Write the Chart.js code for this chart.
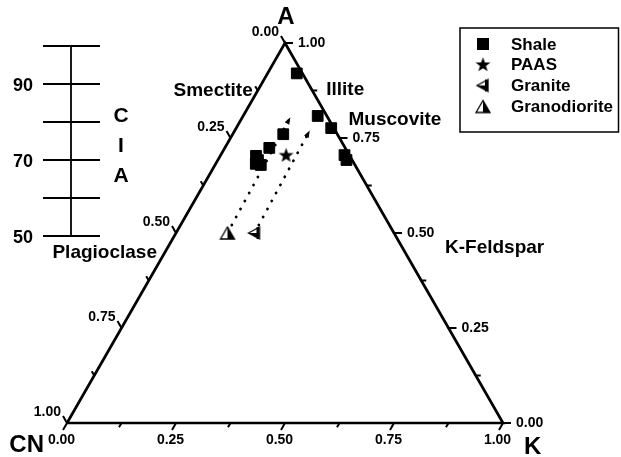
<!DOCTYPE html>
<html>
<head>
<meta charset="utf-8">
<script src="https://cdn.jsdelivr.net/npm/chart.js@4.4.1/dist/chart.umd.min.js"></script>
<style>
  html, body { margin: 0; padding: 0; background: #fff; }
  #wrap { width: 621px; height: 457px; }
</style>
</head>
<body>
<div id="wrap"><canvas id="c" width="621" height="457"></canvas></div>
<script>
// ---- A–CN–K molar proportions (A = Al2O3, CN = CaO* + Na2O, K = K2O) ----
const shaleA  = [0.920, 0.808, 0.776, 0.705, 0.692, 0.760, 0.724, 0.703, 0.692, 0.682, 0.679];
const shaleCN = [0.013, 0.021, 0.006, 0.011, 0.013, 0.124, 0.174, 0.215, 0.216, 0.226, 0.216];
const shaleK  = [0.067, 0.171, 0.218, 0.284, 0.295, 0.116, 0.102, 0.082, 0.092, 0.092, 0.105];

const paasA = [0.705], paasCN = [0.145], paasK = [0.150];
const graniteA = [0.50], graniteCN = [0.320], graniteK = [0.180];
const granodioriteA = [0.50], granodioriteCN = [0.382], granodioriteK = [0.118];

// predicted weathering trends (start = fresh rock, end = arrow tip)
const graniteTrendA = [0.50, 0.765], graniteTrendCN = [0.320, 0.063], graniteTrendK = [0.180, 0.172];
const granoTrendA   = [0.50, 0.800], granoTrendCN   = [0.382, 0.090], granoTrendK   = [0.118, 0.110];

// axis ticks
const majorTicks = [0, 0.25, 0.5, 0.75, 1];
const majorTickLabels = ['0.00', '0.25', '0.50', '0.75', '1.00'];
const minorTicks = [0.125, 0.375, 0.625, 0.875];

// CIA scale
const ciaTicks = [100, 90, 80, 70, 60, 50];
const ciaLabelValues = [90, 70, 50];
const ciaLabels = ['90', '70', '50'];

const legendNames = ['Shale', 'PAAS', 'Granite', 'Granodiorite'];

// ---- ternary -> cartesian (K at right, A at top) ----
function tern(a, cn, k) {
  const s = a + cn + k;
  return { x: (k / s) + (a / s) / 2, y: a / s };
}
function series(A, CN, K) { return A.map((a, i) => tern(a, CN[i], K[i])); }

// ---- marker images ----
function makeCanvas(w, h, draw) {
  const cv = document.createElement('canvas');
  cv.width = w; cv.height = h;
  draw(cv.getContext('2d'), w, h);
  return cv;
}
const starImg = makeCanvas(17, 17, (g, w, h) => {
  const cx = w / 2, cy = h / 2 + 0.5, R = 7.8, r = 3.2;
  g.beginPath();
  for (let i = 0; i < 10; i++) {
    const rad = i % 2 ? r : R;
    const ang = -Math.PI / 2 + i * Math.PI / 5;
    const px = cx + rad * Math.cos(ang), py = cy + rad * Math.sin(ang);
    i ? g.lineTo(px, py) : g.moveTo(px, py);
  }
  g.closePath();
  g.fillStyle = '#000';
  g.fill();
});
const graniteImg = makeCanvas(16, 16, (g, w, h) => {
  // left-pointing triangle, lower half solid
  const L = 2, R = 13, T = 2, B = 14, M = 8;
  g.fillStyle = '#fff';
  g.beginPath(); g.moveTo(L, M); g.lineTo(R, T); g.lineTo(R, B); g.closePath(); g.fill();
  g.fillStyle = '#000';
  g.beginPath(); g.moveTo(L, M); g.lineTo(R, M); g.lineTo(R, B); g.closePath(); g.fill();
  g.fillRect(R - 3, T, 3, B - T);
  g.strokeStyle = '#000'; g.lineWidth = 1.3; g.lineJoin = 'miter';
  g.beginPath(); g.moveTo(L, M); g.lineTo(R, T); g.lineTo(R, B); g.closePath(); g.stroke();
});
const granodioriteImg = makeCanvas(18, 16, (g, w, h) => {
  // upward triangle, right half solid
  const L = 2, R = 16, T = 2, B = 14, M = 9;
  g.fillStyle = '#fff';
  g.beginPath(); g.moveTo(M, T); g.lineTo(R, B); g.lineTo(L, B); g.closePath(); g.fill();
  g.fillStyle = '#000';
  g.beginPath(); g.moveTo(M, T); g.lineTo(R, B); g.lineTo(M, B); g.closePath(); g.fill();
  g.strokeStyle = '#000'; g.lineWidth = 1.3;
  g.beginPath(); g.moveTo(M, T); g.lineTo(R, B); g.lineTo(L, B); g.closePath(); g.stroke();
});

// pixel frame: triangle base spans 436 px, height 380 px
const xMin = -67 / 436, xMax = (621 - 67) / 436;
const yMin = -(457 - 423) / 380, yMax = 423 / 380;

const FONT = '"Liberation Sans", Arial, Helvetica, sans-serif';

const ternaryFrame = {
  id: 'ternaryFrame',
  afterDatasetsDraw(chart) {
    const { ctx, scales: { x, y } } = chart;
    const P = (a, cn, k) => { const t = tern(a, cn, k); return { x: x.getPixelForValue(t.x), y: y.getPixelForValue(t.y) }; };
    ctx.save();
    ctx.fillStyle = '#000';
    ctx.strokeStyle = '#000';

    // arrow heads on trend lines
    [[graniteTrendA, graniteTrendCN, graniteTrendK], [granoTrendA, granoTrendCN, granoTrendK]].forEach(([A, CN, K]) => {
      const p0 = P(A[0], CN[0], K[0]), p1 = P(A[1], CN[1], K[1]);
      const ang = Math.atan2(p1.y - p0.y, p1.x - p0.x);
      ctx.save();
      ctx.translate(p1.x, p1.y);
      ctx.rotate(ang);
      ctx.beginPath();
      ctx.moveTo(2, 0); ctx.lineTo(-5, -2.6); ctx.lineTo(-5, 2.6); ctx.closePath();
      ctx.fill();
      ctx.restore();
    });

    // axis ticks
    ctx.lineWidth = 2;
    ctx.lineCap = 'butt';
    const tick = (p, dx, dy, len) => {
      ctx.beginPath(); ctx.moveTo(p.x, p.y); ctx.lineTo(p.x + dx * len, p.y + dy * len); ctx.stroke();
    };
    const c60 = 0.5, s60 = Math.sqrt(3) / 2;
    const allTicks = majorTicks.map(v => [v, 8]).concat(minorTicks.map(v => [v, 5]));
    allTicks.forEach(([v, len]) => {
      tick(P(0, 1 - v, v), -c60, s60, len);   // K (bottom)
      tick(P(v, 0, 1 - v), 1, 0, len);         // A (right)
      tick(P(1 - v, v, 0), -c60, -s60, len);  // CN (left)
    });

    // tick labels
    ctx.font = 'bold 14px ' + FONT;
    ctx.textBaseline = 'middle';
    majorTicks.forEach((v, i) => {
      const lab = majorTickLabels[i];
      let p = P(0, 1 - v, v);
      ctx.textAlign = 'center'; ctx.fillText(lab, p.x - 5.5, p.y + 17.5);
      p = P(v, 0, 1 - v);
      ctx.textAlign = 'left'; ctx.fillText(lab, p.x + 13, p.y + 0.5);
      p = P(1 - v, v, 0);
      ctx.textAlign = 'right'; ctx.fillText(lab, p.x - 6, p.y - 10.5);
    });

    // apex names
    ctx.font = 'bold 24px ' + FONT;
    let p = P(1, 0, 0);
    ctx.textAlign = 'center'; ctx.fillText('A', p.x + 1, p.y - 26);
    p = P(0, 1, 0);
    ctx.textAlign = 'right'; ctx.fillText('CN', p.x - 23, p.y + 22);
    p = P(0, 0, 1);
    ctx.textAlign = 'left'; ctx.fillText('K', p.x + 21, p.y + 24);

    // mineral names
    ctx.font = 'bold 19px ' + FONT;
    p = P(0.875, 0.125, 0); ctx.textAlign = 'right'; ctx.fillText('Smectite', p.x - 5, p.y);
    p = P(0.875, 0, 0.125); ctx.textAlign = 'left';  ctx.fillText('Illite', p.x + 14, p.y - 1);
    p = P(0.75, 0, 0.25);   ctx.textAlign = 'left';  ctx.fillText('Muscovite', p.x + 9, p.y - 18);
    p = P(0.5, 0, 0.5);     ctx.textAlign = 'left';  ctx.fillText('K-Feldspar', p.x + 51, p.y + 15);
    p = P(0.5, 0.5, 0);     ctx.textAlign = 'right'; ctx.fillText('Plagioclase', p.x - 19, p.y + 20);

    // CIA scale
    const cx = 71, cyOf = v => y.getPixelForValue(v / 100) + 3;
    ctx.lineWidth = 1.8;
    ctx.beginPath(); ctx.moveTo(cx, cyOf(ciaTicks[0])); ctx.lineTo(cx, cyOf(ciaTicks[ciaTicks.length - 1])); ctx.stroke();
    ciaTicks.forEach(v => { ctx.beginPath(); ctx.moveTo(43, cyOf(v)); ctx.lineTo(100, cyOf(v)); ctx.stroke(); });
    ctx.font = 'bold 18px ' + FONT;
    ctx.textAlign = 'right';
    ciaLabelValues.forEach((v, i) => ctx.fillText(ciaLabels[i], 33, cyOf(v) + 2));
    ctx.font = 'bold 21px ' + FONT;
    ctx.textAlign = 'center';
    ctx.fillText('C', 121, 116);
    ctx.fillText('I', 121, 146);
    ctx.fillText('A', 121, 176);

    // legend
    ctx.lineWidth = 1.5;
    ctx.strokeRect(460, 28, 158.5, 104);
    ctx.font = 'bold 17px ' + FONT;
    ctx.textAlign = 'left';
    const rowY = [44, 64.5, 85.5, 106.5];
    legendNames.forEach((name, i) => {
      const sx = 483, sy = rowY[i];
      if (i === 0) ctx.fillRect(sx - 6, sy - 6, 12, 12);
      else {
        const img = [null, starImg, graniteImg, granodioriteImg][i];
        ctx.drawImage(img, sx - img.width / 2, sy - img.height / 2);
      }
      ctx.fillText(name, 511, sy + 1);
    });
    ctx.restore();
  }
};

const black = '#000';
new Chart(document.getElementById('c'), {
  type: 'scatter',
  data: {
    datasets: [
      { label: 'frame', data: [tern(0, 1, 0), tern(0, 0, 1), tern(1, 0, 0), tern(0, 1, 0)],
        showLine: true, borderColor: black, borderWidth: 2.7, pointRadius: 0, fill: false,
        borderJoinStyle: 'miter', order: 9 },
      { label: 'Granite trend', data: series(graniteTrendA, graniteTrendCN, graniteTrendK),
        showLine: true, borderColor: black, borderWidth: 2.8, borderDash: [0.1, 9], borderCapStyle: 'round',
        pointRadius: 0, order: 8 },
      { label: 'Granodiorite trend', data: series(granoTrendA, granoTrendCN, granoTrendK),
        showLine: true, borderColor: black, borderWidth: 2.8, borderDash: [0.1, 9], borderCapStyle: 'round',
        pointRadius: 0, order: 8 },
      { label: 'Shale', data: series(shaleA, shaleCN, shaleK), pointStyle: 'rect', pointRadius: 7.6,
        backgroundColor: black, borderColor: black, borderWidth: 1, order: 1 },
      { label: 'PAAS', data: series(paasA, paasCN, paasK), pointStyle: starImg, pointRadius: 8, order: 1 },
      { label: 'Granite', data: series(graniteA, graniteCN, graniteK), pointStyle: graniteImg, pointRadius: 8, order: 1 },
      { label: 'Granodiorite', data: series(granodioriteA, granodioriteCN, granodioriteK), pointStyle: granodioriteImg, pointRadius: 8, order: 1 }
    ]
  },
  options: {
    responsive: false,
    animation: false,
    devicePixelRatio: 1,
    layout: { padding: 0, autoPadding: false },
    clip: false,
    events: [],
    plugins: { legend: { display: false }, tooltip: { enabled: false } },
    scales: {
      x: { type: 'linear', display: false, min: xMin, max: xMax },
      y: { type: 'linear', display: false, min: yMin, max: yMax }
    }
  },
  plugins: [ternaryFrame]
});
</script>
</body>
</html>
